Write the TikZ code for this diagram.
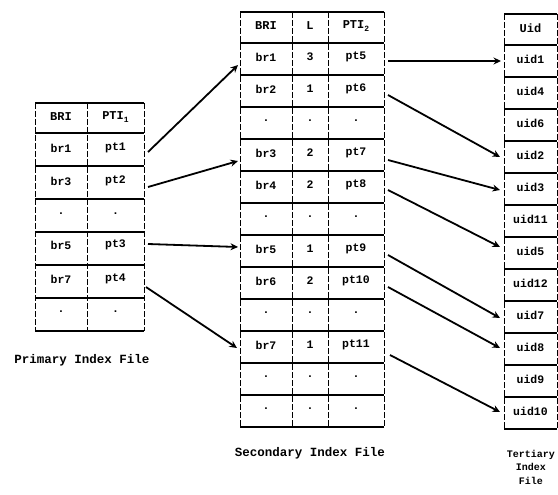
\documentclass[tikz,border=0pt]{standalone}
\usepackage{fontspec}
\setmonofont{Liberation Mono}
\usetikzlibrary{arrows.meta}
\begin{document}
\begin{tikzpicture}[x=1pt,y=-1pt,
  hl/.style={line width=1.5pt},
  hlt/.style={line width=2.6pt},
  vl/.style={line width=0.9pt, dash pattern=on 6pt off 2pt},
  cell/.style={font=\ttfamily\bfseries\fontsize{11.5}{11.5}\selectfont, inner sep=0pt},
  hdr/.style={font=\ttfamily\bfseries\fontsize{12}{12}\selectfont, inner sep=0pt},
  lbl/.style={font=\ttfamily\bfseries\fontsize{12.5}{14}\selectfont, inner sep=0pt},
  tlbl/.style={font=\ttfamily\bfseries\fontsize{10}{13.5}\selectfont, inner sep=0pt, align=center},
  ptr/.style={line width=1.8pt, -{Stealth[length=7.5pt,width=7pt]}},
]
\useasboundingbox (0,0) rectangle (558,495);

% ---------- Primary index file ----------
\foreach \y in {103,166,199,265,298} \draw[hl] (35,\y) -- (144,\y);
\foreach \y in {133,232,331} \draw[hlt] (35,\y) -- (144,\y);
\foreach \x in {35,87,144} \draw[vl] (\x,103) -- (\x,331);
\node[hdr] (Ph1) at (61,117) {BRI};
\node[hdr] (Ph2) at (115.5,117) {PTI\raisebox{-0.35ex}{\fontsize{8}{8}\selectfont 1}};
\foreach \a/\b/\y [count=\i] in {br1/pt1/148, br3/pt2/181, ././214, br5/pt3/245, br7/pt4/279, ././312}
  {\node[cell] (P\i a) at (61,\y) {\a}; \node[cell] (P\i b) at (115.5,\y) {\b};}
\node[lbl] (Plbl) at (82,360) {Primary Index File};

% ---------- Secondary index file ----------
\foreach \y in {12,75,171,203,267,363,395} \draw[hl] (240,\y) -- (384,\y);
\foreach \y in {43,107,139,235,299,331,427} \draw[hlt] (240,\y) -- (384,\y);
\foreach \x in {240,292,328,384} \draw[vl] (\x,12) -- (\x,427);
\node[hdr] (Sh1) at (266,26) {BRI};
\node[hdr] (Sh2) at (310,26) {L};
\node[hdr] (Sh3) at (356,26) {PTI\raisebox{-0.35ex}{\fontsize{8}{8}\selectfont 2}};
\foreach \a/\b/\c [count=\i] in {br1/3/pt5, br2/1/pt6, ./././, br3/2/pt7, br4/2/pt8, ./././,
    br5/1/pt9, br6/2/pt10, ./././, br7/1/pt11, ./././, ./././}
  {\pgfmathsetmacro\yy{43+32*(\i-1)+14}
   \node[cell] (S\i a) at (266,\yy) {\a};
   \node[cell] (S\i b) at (310,\yy) {\b};
   \node[cell] (S\i c) at (356,\yy) {\c};}
\node[lbl] (Slbl) at (310,453) {Secondary Index File};

% ---------- Tertiary index file ----------
\foreach \k in {1,...,11} \draw[hl] (504,45+32*\k) -- (557,45+32*\k);
\draw[hl] (504,14) -- (557,14);
\draw[hlt] (504,45) -- (557,45);
\draw[hlt] (504,429) -- (557,429);
\foreach \x in {504,557} \draw[vl] (\x,14) -- (\x,429);
\node[hdr] (Th) at (530.5,28) {Uid};
\foreach \u [count=\i] in {uid1,uid4,uid6,uid2,uid3,uid11,uid5,uid12,uid7,uid8,uid9,uid10}
  {\pgfmathsetmacro\yy{45+32*(\i-1)+14}
   \node[cell] (T\i) at (530.5,\yy) {\u};}
\node[tlbl] (Tlbl) at (531,467) {Tertiary\\Index\\File};

% ---------- arrow end points ----------
\coordinate (p1o) at (148,152);
\coordinate (p2o) at (148,187);
\coordinate (p3o) at (148,244);
\coordinate (p4o) at (146,287);
\coordinate (s1i) at (238,65);
\coordinate (s4i) at (238,161);
\coordinate (s7i) at (238,247);
\coordinate (s10i) at (237,348);
\coordinate (s1o) at (388,61);
\coordinate (s2o) at (388,95);
\coordinate (s4o) at (388,160);
\coordinate (s5o) at (388,190);
\coordinate (s7o) at (388,255);
\coordinate (s8o) at (388,287);
\coordinate (s10o) at (390,355);
\coordinate (t1i) at (501,61);
\coordinate (t4i) at (500,157);
\coordinate (t5i) at (500,190);
\coordinate (t7i) at (500,247);
\coordinate (t9i) at (500,318);
\coordinate (t10i) at (500,348);
\coordinate (t12i) at (500,412);

\draw[ptr] (p1o) -- (s1i);
\draw[ptr] (p2o) -- (s4i);
\draw[ptr] (p3o) -- (s7i);
\draw[ptr] (p4o) -- (s10i);
\draw[ptr] (s1o) -- (t1i);
\draw[ptr] (s2o) -- (t4i);
\draw[ptr] (s4o) -- (t5i);
\draw[ptr] (s5o) -- (t7i);
\draw[ptr] (s7o) -- (t9i);
\draw[ptr] (s8o) -- (t10i);
\draw[ptr] (s10o) -- (t12i);
\end{tikzpicture}
\end{document}
